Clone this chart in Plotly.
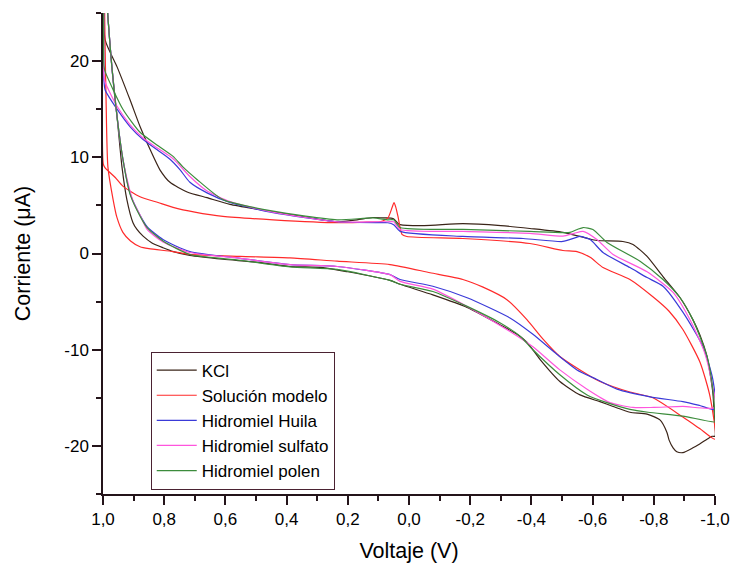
import plotly.graph_objects as go

# ---- data (voltage V, current uA) ----
names = ["KCl", "Solución modelo", "Hidromiel Huila", "Hidromiel sulfato", "Hidromiel polen"]
colors = ["#3a2418", "#ff2a2a", "#3a3ad8", "#ff55dd", "#3c8c3c"]

kcl_v = [0.997, 0.993, 0.954, 0.912, 0.879, 0.846, 0.814, 0.781, 0.725, 0.66, 0.585, 0.497, 0.389, 0.235, 0.17, 0.118, 0.08, 0.052, 0.035, 0.029, -0.05, -0.176, -0.3, -0.395, -0.503, -0.58, -0.614, -0.699, -0.732, -0.778, -0.83, -0.886, -0.928, -0.951, -0.974, -0.984, -0.993, -0.997, -1.0,
         -0.99, -0.974, -0.95, -0.928, -0.895, -0.875, -0.863, -0.85, -0.843, -0.82, -0.778, -0.722, -0.667, -0.624, -0.559, -0.493, -0.428, -0.386, -0.353, -0.297, -0.19, -0.078, 0.029, 0.062, 0.2, 0.281, 0.389, 0.5, 0.608, 0.716, 0.77, 0.804, 0.84, 0.869, 0.889, 0.902, 0.922, 0.938, 0.954, 0.971, 0.984, 0.99]
kcl_i = [28, 22.2, 19.4, 16.0, 13.2, 10.8, 8.7, 7.4, 6.4, 5.8, 5.1, 4.6, 4.05, 3.3, 3.5, 3.74, 3.7, 3.64, 3.1, 3.0, 2.9, 3.1, 2.9, 2.6, 2.2, 1.6, 1.35, 1.25, 0.94, -0.3, -2.4, -4.6, -6.9, -8.5, -10.7, -12.5, -14.5, -16.5, -19.0,
         -19.0, -19.3, -19.8, -20.2, -20.7, -20.6, -20.2, -19.4, -18.6, -17.3, -16.7, -16.5, -15.9, -15.4, -14.7, -13.3, -11.0, -9.25, -8.4, -7.4, -5.6, -4.3, -3.2, -2.8, -1.9, -1.46, -1.35, -0.9, -0.6, -0.2, 0.2, 0.6, 1.1, 1.8, 2.5, 3.2, 5.6, 9.0, 14.2, 19.4, 24.6, 28]

sol_v = [0.999, 0.999, 0.993, 0.96, 0.935, 0.879, 0.82, 0.771, 0.7, 0.608, 0.444, 0.235, 0.15, 0.095, 0.069, 0.055, 0.049, 0.043, 0.036, 0.023, 0.007, -0.176, -0.395, -0.503, -0.549, -0.592, -0.634, -0.722, -0.797, -0.85, -0.895, -0.951, -0.984, -1.0,
         -0.95, -0.895, -0.797, -0.722, -0.624, -0.559, -0.493, -0.438, -0.386, -0.32, -0.242, -0.176, -0.069, 0.062, 0.235, 0.389, 0.552, 0.716, 0.771, 0.85, 0.879, 0.91, 0.935, 0.955, 0.967, 0.984, 0.99, 0.993, 0.996]
sol_i = [28, 9.3, 8.9, 7.9, 7.0, 5.9, 5.3, 4.8, 4.3, 3.85, 3.5, 3.2, 3.25, 3.3, 3.7, 4.8, 5.3, 4.8, 3.85, 2.0, 1.77, 1.56, 1.04, 0.31, 0.2, -0.4, -1.46, -2.7, -4.5, -6.0, -7.9, -11.3, -14.9, -19.3,
         -18.2, -17.0, -15.0, -14.4, -13.3, -12.1, -10.7, -8.9, -6.9, -4.8, -3.5, -2.7, -2.0, -1.15, -0.8, -0.45, -0.3, -0.1, 0.2, 0.5, 0.7, 1.3, 2.2, 3.8, 5.6, 9.0, 16.0, 21.2, 28]

hui_v = [0.997, 0.997, 0.993, 0.954, 0.912, 0.869, 0.824, 0.781, 0.748, 0.716, 0.66, 0.585, 0.444, 0.235, 0.1, 0.069, 0.05, 0.029, -0.176, -0.373, -0.503, -0.54, -0.559, -0.592, -0.634, -0.722, -0.778, -0.83, -0.895, -0.961, -0.993, -1.0,
         -0.95, -0.895, -0.788, -0.68, -0.614, -0.549, -0.484, -0.405, -0.33, -0.19, -0.078, 0.029, 0.062, 0.235, 0.389, 0.552, 0.716, 0.804, 0.856, 0.889, 0.912, 0.935, 0.954, 0.971, 0.984, 0.99]
hui_i = [28, 18, 17.0, 15.0, 13.2, 11.85, 10.8, 9.8, 8.7, 7.4, 6.3, 5.3, 4.25, 3.3, 3.2, 3.2, 3.0, 2.3, 1.77, 1.56, 1.25, 1.6, 1.77, 1.45, 0.1, -1.46, -2.5, -3.4, -6.1, -9.7, -13.1, -16.2,
         -15.8, -15.4, -14.9, -14.1, -13.1, -12.1, -10.5, -8.4, -6.7, -4.6, -3.4, -2.7, -2.2, -1.35, -1.15, -0.5, 0.2, 1.45, 2.8, 4.6, 6.3, 9.8, 14.2, 19.4, 24.6, 28]

sul_v = [0.997, 0.997, 0.993, 0.954, 0.912, 0.869, 0.824, 0.781, 0.758, 0.716, 0.66, 0.585, 0.444, 0.235, 0.1, 0.069, 0.05, 0.029, -0.176, -0.395, -0.503, -0.54, -0.569, -0.614, -0.667, -0.778, -0.863, -0.92, -0.966, -0.99, -1.0,
         -0.895, -0.8, -0.732, -0.657, -0.582, -0.493, -0.405, -0.33, -0.19, -0.078, 0.029, 0.062, 0.235, 0.389, 0.552, 0.716, 0.804, 0.856, 0.879, 0.9, 0.912, 0.935, 0.954, 0.971, 0.984, 0.99]
sul_i = [28, 18.5, 17.8, 15.3, 13.4, 12.0, 11.0, 10.1, 9.45, 8.0, 6.5, 5.4, 4.3, 3.3, 3.3, 3.3, 3.3, 2.5, 2.3, 2.1, 1.8, 2.1, 2.3, 1.45, -0.1, -1.9, -4.05, -7.0, -10.3, -13.5, -16.0,
         -15.9, -16.0, -16.0, -15.5, -14.1, -12.1, -9.7, -8.1, -5.5, -3.7, -2.9, -2.2, -1.35, -1.15, -0.5, 0.1, 1.2, 2.5, 4.0, 5.3, 6.5, 9.8, 14.2, 19.4, 24.6, 28]

pol_v = [0.997, 0.997, 0.993, 0.935, 0.879, 0.82, 0.771, 0.739, 0.693, 0.608, 0.444, 0.235, 0.118, 0.069, 0.05, 0.029, -0.176, -0.395, -0.526, -0.55, -0.569, -0.601, -0.647, -0.755, -0.83, -0.886, -0.928, -0.974, -0.993, -1.0,
         -1.0, -0.895, -0.781, -0.722, -0.647, -0.582, -0.493, -0.405, -0.363, -0.297, -0.19, -0.078, 0.029, 0.062, 0.235, 0.389, 0.552, 0.716, 0.804, 0.856, 0.889, 0.912, 0.935, 0.954, 0.971, 0.984, 0.99]
pol_i = [28, 19.5, 18.9, 15.0, 12.6, 11.2, 10.1, 9.0, 7.7, 5.6, 4.4, 3.5, 3.7, 3.5, 3.5, 2.7, 2.5, 2.3, 2.2, 2.5, 2.7, 2.5, 1.15, -0.8, -2.7, -4.6, -6.9, -10.7, -14.1, -17.3,
         -17.5, -16.9, -16.5, -16.2, -15.5, -14.7, -12.6, -10.0, -8.6, -7.2, -5.5, -3.95, -3.2, -2.8, -1.66, -1.4, -0.7, -0.1, 1.3, 2.7, 4.5, 6.2, 9.8, 14.2, 19.4, 24.6, 28]

x_tickvals = [1.0, 0.8, 0.6, 0.4, 0.2, 0.0, -0.2, -0.4, -0.6, -0.8, -1.0]
x_ticktext = ["1,0", "0,8", "0,6", "0,4", "0,2", "0,0", "-0,2", "-0,4", "-0,6", "-0,8", "-1,0"]
y_tickvals = [20, 10, 0, -10, -20]
y_ticktext = ["20", "10", "0", "-10", "-20"]

series = [(kcl_v, kcl_i), (sol_v, sol_i), (hui_v, hui_i), (sul_v, sul_i), (pol_v, pol_i)]

FONT = "Arial, Liberation Sans, sans-serif"
AX = "#24141a"
fig = go.Figure()
for (v, i), n, c in zip(series, names, colors):
    fig.add_trace(go.Scatter(x=v, y=i, mode="lines", name=n,
                             line=dict(color=c, width=1.2, shape="spline", smoothing=0.6)))

fig.update_layout(
    width=732, height=563,
    margin=dict(l=103, r=17, t=13, b=69),
    paper_bgcolor="white", plot_bgcolor="white",
    font=dict(family=FONT, size=17, color="black"),
    showlegend=True,
    legend=dict(x=0.078, y=0.296, xanchor="left", yanchor="top",
                bgcolor="white", bordercolor="#4a2232", borderwidth=1,
                font=dict(family=FONT, size=17, color="black"),
                tracegroupgap=0, itemwidth=40),
    xaxis=dict(range=[1.0, -1.0], autorange=False, automargin=False,
               tickvals=x_tickvals, ticktext=x_ticktext,
               ticks="outside", ticklen=9, tickwidth=1.5, tickcolor=AX,
               minor=dict(dtick=0.1, tick0=0, ticks="outside", ticklen=5, tickwidth=1.5, tickcolor=AX),
               showline=True, linecolor=AX, linewidth=1.5,
               showgrid=False, zeroline=False,
               title=dict(text="Voltaje (V)", font=dict(size=21.5), standoff=17),
               tickfont=dict(size=17)),
    yaxis=dict(range=[-25, 25], autorange=False, automargin=False,
               tickvals=y_tickvals, ticktext=y_ticktext,
               ticks="outside", ticklen=9, tickwidth=1.5, tickcolor=AX,
               minor=dict(dtick=5, tick0=0, ticks="outside", ticklen=5, tickwidth=1.5, tickcolor=AX),
               showline=True, linecolor=AX, linewidth=1.5,
               showgrid=False, zeroline=False,
               title=dict(text="Corriente (μA)", font=dict(size=21.5), standoff=28),
               tickfont=dict(size=17)),
)

fig.write_html("out.html")
